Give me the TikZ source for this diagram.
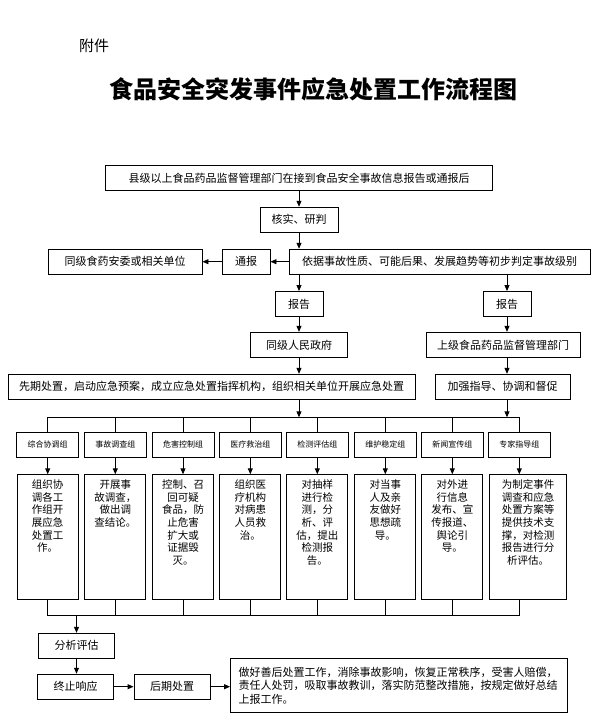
\documentclass[tikz,border=0pt]{standalone}
\usepackage{fontspec}
\usepackage{tikz}
\usetikzlibrary{arrows.meta, positioning}
\newfontfamily\cjk{Noto Sans CJK SC}

\begin{document}
\begin{tikzpicture}[
  x = 1pt, y = -1pt,
  box/.style    = {rectangle, draw, line width=0.9pt, minimum height=25pt, inner sep=0pt,
                   align=center, font=\cjk\fontsize{11}{13}\selectfont},
  group/.style  = {box, minimum width=62pt, font=\cjk\fontsize{8}{10}\selectfont},
  detail/.style = {rectangle, draw, line width=0.9pt, minimum width=61pt, minimum height=125pt,
                   inner sep=0pt, anchor=north},
  dtext/.style  = {anchor=north, inner sep=0pt, yshift=-5pt, align=center,
                   font=\cjk\fontsize{10.5}{12.7}\selectfont},
  arrow/.style  = {-{Triangle[length=6pt,width=5pt]}, line width=0.9pt},
  link/.style   = {line width=0.9pt}
]
\useasboundingbox (0,0) rectangle (595,717);

\node[font=\cjk\fontsize{15}{18}\selectfont] (annex) at (94,46) {附件};
\node[font=\cjk\bfseries\fontsize{24}{28}\selectfont] (title) at (313.5,89) {食品安全突发事件应急处置工作流程图};

\node[box, minimum width=387pt]   (recv)   at (299,178)     {县级以上食品药品监督管理部门在接到食品安全事故信息报告或通报后};
\node[box, minimum width=78pt]    (check)  at (299,219.7)   {核实、研判};
\node[box, minimum width=301pt]   (judge)  at (439.5,261.7) {依据事故性质、可能后果、发展趋势等初步判定事故级别};
\node[box, minimum width=48pt]    (notify) at (246,261.7)   {通报};
\node[box, minimum width=154pt]   (peer)   at (125,261.7)   {同级食药安委或相关单位};
\node[box, minimum width=48pt]    (repL)   at (299,304)     {报告};
\node[box, minimum width=48pt]    (repR)   at (507,304)     {报告};
\node[box, minimum width=97pt]    (gov)    at (299,344.8)   {同级人民政府};
\node[box, minimum width=154pt]   (upper)  at (503,344.8)   {上级食品药品监督管理部门};
\node[box, minimum width=406.6pt] (early)  at (211.7,386.8) {先期处置，启动应急预案，成立应急处置指挥机构，组织相关单位开展应急处置};
\node[box, minimum width=135pt]   (guide)  at (502.5,386.8) {加强指导、协调和督促};

\coordinate (busT) at (47.7,417.3);
\coordinate (busB) at (47.7,615.7);

% working groups
\node[group] (g1) at (47.7,444.8)  {综合协调组};
\node[group] (g2) at (115.3,444.8) {事故调查组};
\node[group] (g3) at (183,444.8)   {危害控制组};
\node[group] (g4) at (250.3,444.8) {医疗救治组};
\node[group] (g5) at (317.3,444.8) {检测评估组};
\node[group] (g6) at (385.3,444.8) {维护稳定组};
\node[group] (g7) at (452.3,444.8) {新闻宣传组};
\node[group] (g8) at (519.3,444.8) {专家指导组};

\node[detail, label={[dtext]north:{组织协\\调各工\\作组开\\展应急\\处置工\\作。}}] (d1) at (47.7,474.3) {};
\node[detail, label={[dtext]north:{开展事\\故调查，\\做出调\\查结论。}}] (d2) at (115.3,474.3) {};
\node[detail, label={[dtext]north:{控制、召\\回可疑\\食品，防\\止危害\\扩大或\\证据毁\\灭。}}] (d3) at (183,474.3) {};
\node[detail, label={[dtext]north:{组织医\\疗机构\\对病患\\人员救\\治。}}] (d4) at (250.3,474.3) {};
\node[detail, label={[dtext]north:{对抽样\\进行检\\测，分\\析、评\\估，提出\\检测报\\告。}}] (d5) at (317.3,474.3) {};
\node[detail, label={[dtext]north:{对当事\\人及亲\\友做好\\思想疏\\导。}}] (d6) at (385.3,474.3) {};
\node[detail, label={[dtext]north:{对外进\\行信息\\发布、宣\\传报道、\\舆论引\\导。}}] (d7) at (452.3,474.3) {};
\node[detail, minimum width=77.4pt, label={[dtext]north:{为制定事件\\调查和应急\\处置方案等\\提供技术支\\撑，对检测\\报告进行分\\析评估。}}] (d8) at (528,474.3) {};

\node[box, minimum width=76pt] (assess) at (76.5,645.8) {分析评估};
\node[box, minimum width=76pt] (stop)   at (75.5,686.7) {终止响应};
\node[box, minimum width=76pt] (after)  at (172,686.7)  {后期处置};
\node[box, minimum width=337pt, minimum height=53.6pt, text width=321pt, align=left,
      font=\cjk\fontsize{11}{13.3}\selectfont] (summary) at (399,685.5)
  {做好善后处置工作，消除事故影响，恢复正常秩序，受害人赔偿，\\责任人处罚，吸取事故教训，落实防范整改措施，按规定做好总结\\上报工作。};

\draw[arrow] (recv) -- (check);
\draw[arrow] (check) -- (check |- judge.north);
\draw[arrow] (judge) -- (notify);
\draw[arrow] (notify) -- (peer);
\draw[arrow] (repL |- judge.south) -- (repL);
\draw[arrow] (repR |- judge.south) -- (repR);
\draw[arrow] (repL) -- (gov);
\draw[arrow] (repR) -- (repR |- upper.north);
\draw[arrow] (gov) -- (gov |- early.north);
\draw[arrow] (repR |- upper.south) -- (repR |- guide.north);

% top bus
\draw[link] (g1) -- (g1 |- busT) -- (g8 |- busT) -- (g8);
\draw[arrow] (gov |- early.south) -- (gov |- busT);
\draw[arrow] (repR |- guide.south) -- (repR |- busT);
\draw[link] (g2 |- busT) -- (g2) (g3 |- busT) -- (g3) (g4 |- busT) -- (g4)
            (g5 |- busT) -- (g5) (g6 |- busT) -- (g6) (g7 |- busT) -- (g7);

\draw[arrow] (g1) -- (g1 |- d1.north);
\draw[arrow] (g2) -- (g2 |- d2.north);
\draw[arrow] (g3) -- (g3 |- d3.north);
\draw[arrow] (g4) -- (g4 |- d4.north);
\draw[arrow] (g5) -- (g5 |- d5.north);
\draw[arrow] (g6) -- (g6 |- d6.north);
\draw[arrow] (g7) -- (g7 |- d7.north);
\draw[arrow] (g8) -- (g8 |- d8.north);

% bottom bus
\draw[link] (g1 |- d1.south) -- (busB) -- (g8 |- busB) -- (g8 |- d8.south);
\draw[link] (g2 |- d2.south) -- (g2 |- busB) (g3 |- d3.south) -- (g3 |- busB)
            (g4 |- d4.south) -- (g4 |- busB) (g5 |- d5.south) -- (g5 |- busB)
            (g6 |- d6.south) -- (g6 |- busB) (g7 |- d7.south) -- (g7 |- busB);

\draw[arrow] (assess |- busB) -- (assess);
\draw[arrow] (assess) -- (assess |- stop.north);
\draw[arrow] (stop) -- (after);
\draw[arrow] (after) -- (after -| summary.west);

\end{tikzpicture}
\end{document}
